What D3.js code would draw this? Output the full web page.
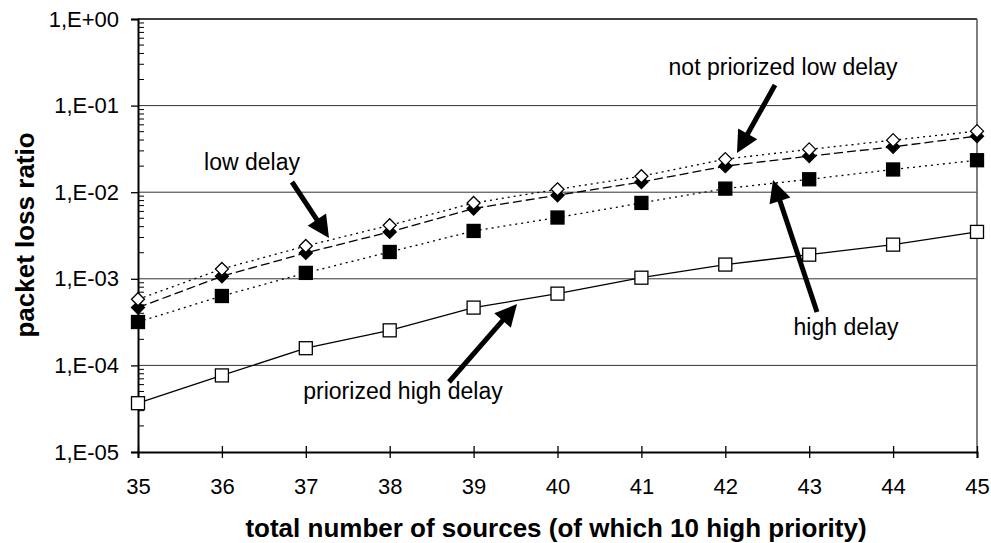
<!DOCTYPE html>
<html>
<head>
<meta charset="utf-8">
<script src="https://cdn.jsdelivr.net/npm/d3@7"></script>
<style>
  body { margin: 0; background: #fff; }
  text { font-family: "Liberation Sans", Arial, sans-serif; }
</style>
</head>
<body>
<svg id="chart" width="991" height="543"></svg>
<script>
// data
const sources = [35, 36, 37, 38, 39, 40, 41, 42, 43, 44, 45];
const notPriorLow = [5.8e-4, 1.30e-3, 2.39e-3, 4.15e-3, 7.5e-3, 1.08e-2, 1.53e-2, 2.41e-2, 3.12e-2, 3.99e-2, 5.07e-2];
const lowDelay = [4.65e-4, 1.07e-3, 1.99e-3, 3.48e-3, 6.48e-3, 9.23e-3, 1.31e-2, 2.0e-2, 2.61e-2, 3.34e-2, 4.44e-2];
const highDelay = [3.17e-4, 6.33e-4, 1.17e-3, 2.04e-3, 3.57e-3, 5.10e-3, 7.52e-3, 1.10e-2, 1.41e-2, 1.83e-2, 2.34e-2];
const priorHigh = [3.66e-5, 7.66e-5, 1.58e-4, 2.54e-4, 4.65e-4, 6.74e-4, 1.03e-3, 1.46e-3, 1.90e-3, 2.48e-3, 3.48e-3];
const yTicks = [1e0, 1e-1, 1e-2, 1e-3, 1e-4, 1e-5];
const yTickLabels = ["1,E+00", "1,E-01", "1,E-02", "1,E-03", "1,E-04", "1,E-05"];

const svg = d3.select("#chart");
const plotL = 138, plotR = 977, plotT = 19, plotB = 452;

const x = d3.scaleLinear().domain([35, 45]).range([plotL, plotR]);
const y = d3.scaleLog().domain([1e-5, 1]).range([plotB, plotT]);

// gridlines
svg.append("g")
    .selectAll("line")
    .data(yTicks.slice(1, 5))
    .join("line")
    .attr("x1", plotL).attr("x2", plotR)
    .attr("y1", d => y(d)).attr("y2", d => y(d))
    .attr("stroke", "#333")
    .attr("stroke-width", 1);

// top line + right border
svg.append("line")
    .attr("x1", plotL).attr("x2", plotR)
    .attr("y1", y(1)).attr("y2", y(1))
    .attr("stroke", "#000").attr("stroke-width", 1.5);
svg.append("line")
    .attr("x1", plotR).attr("x2", plotR)
    .attr("y1", plotT).attr("y2", plotB)
    .attr("stroke", "#555").attr("stroke-width", 1.5);

// minor log ticks, pointing inwards
let minors = [];
for (let e = -5; e < 0; e++) {
    for (let m = 2; m <= 9; m++) minors.push(m * Math.pow(10, e));
}
svg.append("g")
    .selectAll("line")
    .data(minors)
    .join("line")
    .attr("x1", plotL).attr("x2", plotL + 6)
    .attr("y1", d => y(d)).attr("y2", d => y(d))
    .attr("stroke", "#000").attr("stroke-width", 1);

// y axis
const yAxis = d3.axisLeft(y)
    .tickValues(yTicks)
    .tickFormat((d, i) => yTickLabels[i])
    .tickSizeOuter(0)
    .tickSize(7)
    .tickPadding(12);
const gy = svg.append("g")
    .attr("transform", `translate(${plotL},0)`)
    .call(yAxis);
gy.select(".domain").attr("stroke-width", 2);
gy.selectAll(".tick line").attr("stroke-width", 1.3);
gy.selectAll("text").attr("font-size", 22).attr("fill", "#000")
    .attr("font-family", "Liberation Sans, Arial, sans-serif");

// x axis, ticks crossing the line
const xAxis = d3.axisBottom(x)
    .tickValues(sources)
    .tickFormat(d3.format("d"))
    .tickSizeOuter(0)
    .tickSize(6)
    .tickPadding(20);
const gx = svg.append("g")
    .attr("transform", `translate(0,${plotB})`)
    .call(xAxis);
gx.select(".domain").attr("stroke-width", 2);
gx.selectAll(".tick line").attr("y1", -6).attr("stroke-width", 1.3);
gx.selectAll("text").attr("font-size", 22).attr("fill", "#000")
    .attr("font-family", "Liberation Sans, Arial, sans-serif");

// axis titles
svg.append("text")
    .attr("x", 556)
    .attr("y", 537)
    .attr("text-anchor", "middle")
    .attr("font-size", 26)
    .attr("font-weight", "bold")
    .text("total number of sources (of which 10 high priority)");
svg.append("text")
    .attr("transform", `translate(34,235) rotate(-90)`)
    .attr("text-anchor", "middle")
    .attr("font-size", 26)
    .attr("font-weight", "bold")
    .text("packet loss ratio");

// series
const series = [
    { vals: priorHigh, dash: null, marker: "square", fill: "#fff" },
    { vals: highDelay, dash: "2,4", marker: "square", fill: "#000" },
    { vals: lowDelay, dash: "9,4", marker: "diamond", fill: "#000" },
    { vals: notPriorLow, dash: "2,4", marker: "diamond", fill: "#fff" }
];

const line = d3.line()
    .x((d, i) => x(sources[i]))
    .y(d => y(d));

series.forEach(s => {
    svg.append("path")
        .datum(s.vals)
        .attr("fill", "none")
        .attr("stroke", "#000")
        .attr("stroke-width", 1.3)
        .attr("stroke-dasharray", s.dash)
        .attr("d", line);
});

series.forEach(s => {
    const g = svg.append("g");
    if (s.marker === "square") {
        g.selectAll("rect")
            .data(s.vals)
            .join("rect")
            .attr("x", (d, i) => x(sources[i]) - 6.5)
            .attr("y", d => y(d) - 6.5)
            .attr("width", 13).attr("height", 13)
            .attr("fill", s.fill)
            .attr("stroke", "#000")
            .attr("stroke-width", 1.3);
    } else {
        g.selectAll("path")
            .data(s.vals)
            .join("path")
            .attr("transform", (d, i) => `translate(${x(sources[i])},${y(d)})`)
            .attr("d", "M0,-6.5L6.5,0L0,6.5L-6.5,0Z")
            .attr("fill", s.fill)
            .attr("stroke", "#000")
            .attr("stroke-width", 1.3);
    }
});

// annotations with thick arrows
const notes = [
    { text: "low delay", tx: 252, ty: 170, from: [292, 182], to: [329, 238] },
    { text: "not priorized low delay", tx: 783, ty: 75, from: [775, 85], to: [737, 153] },
    { text: "high delay", tx: 846, ty: 335, from: [817, 312], to: [773, 180] },
    { text: "priorized high delay", tx: 403, ty: 399, from: [449, 382], to: [517, 304] }
];

function drawArrow(a, b) {
    const ang = Math.atan2(b[1] - a[1], b[0] - a[0]);
    const headLen = 22, headW = 11;
    const base = [b[0] - headLen * Math.cos(ang), b[1] - headLen * Math.sin(ang)];
    svg.append("line")
        .attr("x1", a[0]).attr("y1", a[1])
        .attr("x2", base[0] + 2 * Math.cos(ang)).attr("y2", base[1] + 2 * Math.sin(ang))
        .attr("stroke", "#000").attr("stroke-width", 5);
    const p1 = [base[0] + headW * Math.sin(ang), base[1] - headW * Math.cos(ang)];
    const p2 = [base[0] - headW * Math.sin(ang), base[1] + headW * Math.cos(ang)];
    svg.append("path")
        .attr("d", `M${b[0]},${b[1]}L${p1[0]},${p1[1]}L${p2[0]},${p2[1]}Z`)
        .attr("fill", "#000");
}

notes.forEach(n => {
    svg.append("text")
        .attr("x", n.tx).attr("y", n.ty)
        .attr("text-anchor", "middle")
        .attr("font-size", 23)
        .text(n.text);
    drawArrow(n.from, n.to);
});
</script>
</body>
</html>
